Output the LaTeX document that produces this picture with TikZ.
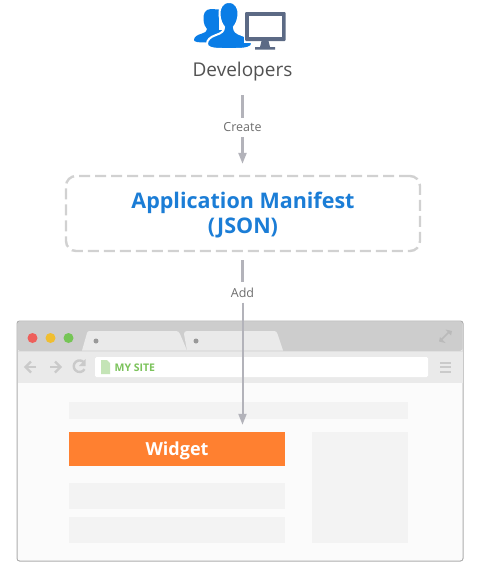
\documentclass[tikz,border=0pt]{standalone}
\usepackage{fontspec}
\setmainfont{Open Sans}
\usetikzlibrary{positioning}
\usetikzlibrary{arrows.meta}
\definecolor{linegray}{HTML}{B3B3BA}
\definecolor{labelgray}{HTML}{6E6E6E}
\definecolor{devblue}{HTML}{0A7DE6}
\definecolor{manblue}{HTML}{1B7DD6}
\definecolor{slate}{HTML}{5C6A85}
\definecolor{barorange}{HTML}{FF8030}
\definecolor{sitegreen}{HTML}{7CC35C}
\definecolor{blockgray}{HTML}{F3F3F3}
\definecolor{chromedark}{HTML}{CDCDCD}
\definecolor{chromelight}{HTML}{EAEAEA}
\definecolor{icongray}{HTML}{CACACA}
\definecolor{lightred}{HTML}{EE5F5B}
\definecolor{lightyellow}{HTML}{F0BE30}
\definecolor{lightgreen}{HTML}{75C555}

\begin{document}
\begin{tikzpicture}[x=1pt,y=-1pt,
        flow/.style={draw=linegray, line width=2.2pt},
        flowtip/.style={flow, -{Triangle[length=11pt,width=8pt]}},
        lbl/.style={font=\fontsize{12.5}{14}\selectfont, text=labelgray, inner sep=0pt},
        block/.style={fill=blockgray, draw=none, inner sep=0pt},
        navicon/.style={draw=icongray, line width=2.4pt}]
    \useasboundingbox (0,0) rectangle (485,562);
    \fill[white] (0,0) rectangle (485,562);

    % developers icon
    \fill[devblue] (211,9) .. controls (205,9) and (203,14) .. (203.5,20) .. controls (204,24) and (205,27) .. (207,29) .. controls (207,31) and (206,32) .. (202,33.5) .. controls (197,35) and (194,37) .. (194,40) .. controls (194,42) and (198,42.5) .. (206,42.5) -- (226,42.5) -- (226,10) -- cycle;
    \fill[white] (219,5) rectangle (232,30);
    \fill[devblue] (214,10) .. controls (217,13) and (218.5,16) .. (218,21) .. controls (217.5,25) and (216,28) .. (214.5,30) -- (208,30) -- (208,10) -- cycle;
    \fill[devblue, draw=white, line width=2pt] (229,2) .. controls (222,2) and (219,8) .. (219.5,15) .. controls (220,20) and (221.5,24) .. (224,27) .. controls (224,31) and (222,33) .. (216,35) .. controls (210,37) and (207,40) .. (207,44) .. controls (207,47.5) and (212,49) .. (222,49) -- (236,49) .. controls (246,49) and (252,47.5) .. (252,44) .. controls (252,40) and (248,37) .. (242,35) .. controls (236,33) and (234,31) .. (234,27) .. controls (236.5,24) and (238,20) .. (238.5,15) .. controls (239,8) and (236,2) .. (229,2) -- cycle;
    % monitor
    \fill[white] (243.5,11) rectangle (287,42.5);
    \fill[slate, rounded corners=1pt] (245,12) rectangle (285.5,41);
    \fill[white] (249,16) rectangle (281.5,36.5);
    \fill[slate] (261.5,41) -- (268.5,41) -- (270,47) -- (275,47) -- (275,49.5) -- (255,49.5) -- (255,47) -- (260,47) -- cycle;

    \node[font=\fontsize{19}{22}\selectfont, text=black!68, inner sep=0pt] (developers) at (242.5,71.5) {Developers};
    \node[lbl] (create) at (242.5,127.5) {Create};
    \node[draw=black!18, line width=2.4pt, dash pattern=on 11pt off 5pt, rounded corners=10pt,
          minimum width=354pt, minimum height=75pt, align=center, text=manblue,
          font=\fontsize{21.5}{25}\selectfont\bfseries, inner sep=0pt] (manifest) at (243,213.5) {\rule{0pt}{19.3pt}Application Manifest\\(JSON)};
    \node[lbl] (add) at (242.5,292.5) {Add};

    % browser window
    \fill[fill=black!32, rounded corners=3pt] (16.5,320.5) rectangle (463.5,561.5);
    \fill[white!98.5!black, rounded corners=2.5pt] (17.5,321.5) rectangle (462.5,560.5);
    \fill[chromedark, rounded corners=2.5pt] (17.5,321.5) -- (462.5,321.5) -- (462.5,351) -- (17.5,351) -- cycle;
    \fill[chromelight] (17.5,351) rectangle (462.5,383);
    \fill[chromelight] (82,350.5) -- (87,333) .. controls (87.5,331.5) and (88,331) .. (90,331) -- (176,331) .. controls (178,331) and (179,332) .. (180,334) -- (187,350.5) -- cycle;
    \fill[chromelight] (187,350.5) -- (184,334) .. controls (184,332) and (185,331) .. (187,331) -- (274,331) .. controls (276,331) and (277,332) .. (277.5,334) -- (283,350.5) -- cycle;
    \draw[white!88!black, line width=1pt] (17.5,351) -- (462.5,351);
    \fill[black!40] (96,341) circle (2.5) (196,341) circle (2.5);
    \fill[lightred] (32.5,338) circle (5);
    \fill[lightyellow] (50.5,338) circle (5);
    \fill[lightgreen] (68.5,338) circle (5);

    % expand icon
    \draw[black!27, line width=1.6pt] (441,340) -- (449,332);
    \fill[black!27] (452,331) -- (445.5,329.5) -- (451,335.5) -- cycle (439,341.5) -- (445.5,343) -- (440,337) -- cycle;

    % nav buttons
    \draw[navicon] (36,367) -- (26,367);
    \draw[navicon] (31,361.5) -- (25.5,367) -- (31,372.5);
    \draw[navicon] (50,367) -- (60,367);
    \draw[navicon] (55,361.5) -- (60.5,367) -- (55,372.5);
    \draw[navicon] (84,362.5) arc (-40:-330:5.8);
    \fill[icongray] (85.5,359) -- (85.5,366) -- (79,366) -- cycle;

    \fill[white, rounded corners=1.5pt] (95,357) rectangle (428,377);
    \fill[sitegreen!45!white] (101,360) -- (107,360) -- (110,363) -- (110,374) -- (101,374) -- cycle;
    \node[font=\fontsize{10.5}{12}\selectfont\bfseries, text=sitegreen, anchor=west, inner sep=0pt] (mysite) at (114.5,368) {MY SITE};
    \foreach \y in {362.5,367,371.5}
        \draw[icongray, line width=2pt] (440,\y) -- (451,\y);

    % page blocks
    \node[block, minimum width=339pt, minimum height=17pt] (topbar) at (238.5,410.5) {};
    \node[fill=barorange, inner sep=0pt, minimum width=216pt, minimum height=34pt, text=white,
          text height=12pt, text depth=0pt,
          font=\fontsize{18}{20}\selectfont\bfseries] (widget) at (177,449) {Widget};
    \node[block, minimum width=216pt, minimum height=26pt] (rowone) at (177,496) {};
    \node[block, minimum width=216pt, minimum height=26pt] (rowtwo) at (177,530) {};
    \node[block, minimum width=96pt, minimum height=111pt] (sidebar) at (360,487.5) {};

    \draw[flow, shorten <=14pt, shorten >=5pt] (developers) -- (create);
    \draw[flowtip, shorten <=5pt, shorten >=11pt] (create) -- (create |- manifest.north);
    \draw[flow, shorten <=8pt, shorten >=5pt] (add |- manifest.south) -- (add);
    \draw[flowtip, line width=2pt, shorten <=5pt, shorten >=7pt] (add) -- (add |- widget.north);
\end{tikzpicture}
\end{document}
